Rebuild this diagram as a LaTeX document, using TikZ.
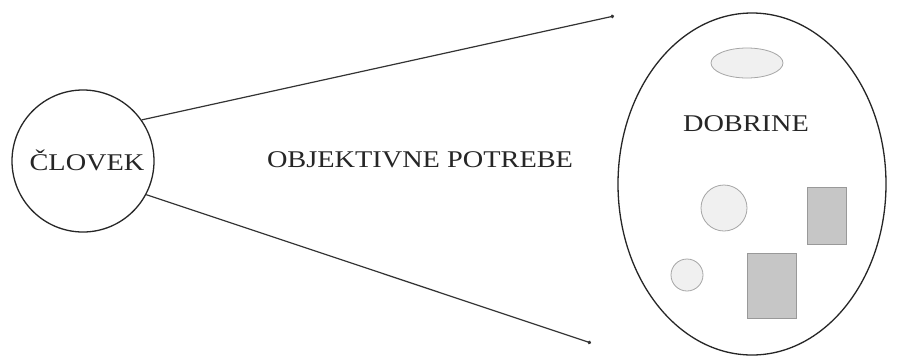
\documentclass[tikz,border=0pt]{standalone}
\usepackage{fontspec}
\newfontfamily\labfont[FakeStretch=1.18]{Liberation Serif}
\usetikzlibrary{arrows.meta,shapes.geometric}
\begin{document}
\begin{tikzpicture}[x=1pt,y=-1pt,
  lab/.style={font=\labfont\fontsize{24}{28}\selectfont, text=black!85, inner sep=0pt},
  outline/.style={draw=black!85, line width=1.3pt},
  conn/.style={draw=black!80, line width=1.2pt, -{Circle[length=3.5pt]}},
  soft/.style={draw=gray!70, line width=0.8pt, fill=gray!12},
  dotbox/.style={draw=gray!80, line width=0.8pt, fill=gray!45}]
\useasboundingbox[fill=white] (0,0) rectangle (897,360);
\node[outline, circle, minimum size=142pt, inner sep=0pt] (clovek) at (83,161) {};
\node[lab] (clovektext) at (87,160) {ČLOVEK};
\node[lab] (potrebe) at (420,160) {OBJEKTIVNE POTREBE};
\node[outline, ellipse, minimum width=268pt, minimum height=342pt, inner sep=0pt] (dobrine) at (752,184) {};
\node[lab] (dobrinetext) at (746,124) {DOBRINE};
\coordinate (topend) at (614,16);
\coordinate (botend) at (591,343);
\draw[conn] (clovek.35) -- (topend);
\draw[conn] (clovek.-28) -- (botend);
\node[soft, ellipse, minimum width=72pt, minimum height=30pt, inner sep=0pt] (e1) at (747,63) {};
\node[soft, circle, minimum size=46pt, inner sep=0pt] (c1) at (724,208) {};
\node[soft, circle, minimum size=32pt, inner sep=0pt] (c2) at (687,275) {};
\node[dotbox, minimum width=39pt, minimum height=57pt, inner sep=0pt] (r1) at (826.5,215.5) {};
\node[dotbox, minimum width=49pt, minimum height=65pt, inner sep=0pt] (r2) at (771.5,285.5) {};
\end{tikzpicture}
\end{document}
